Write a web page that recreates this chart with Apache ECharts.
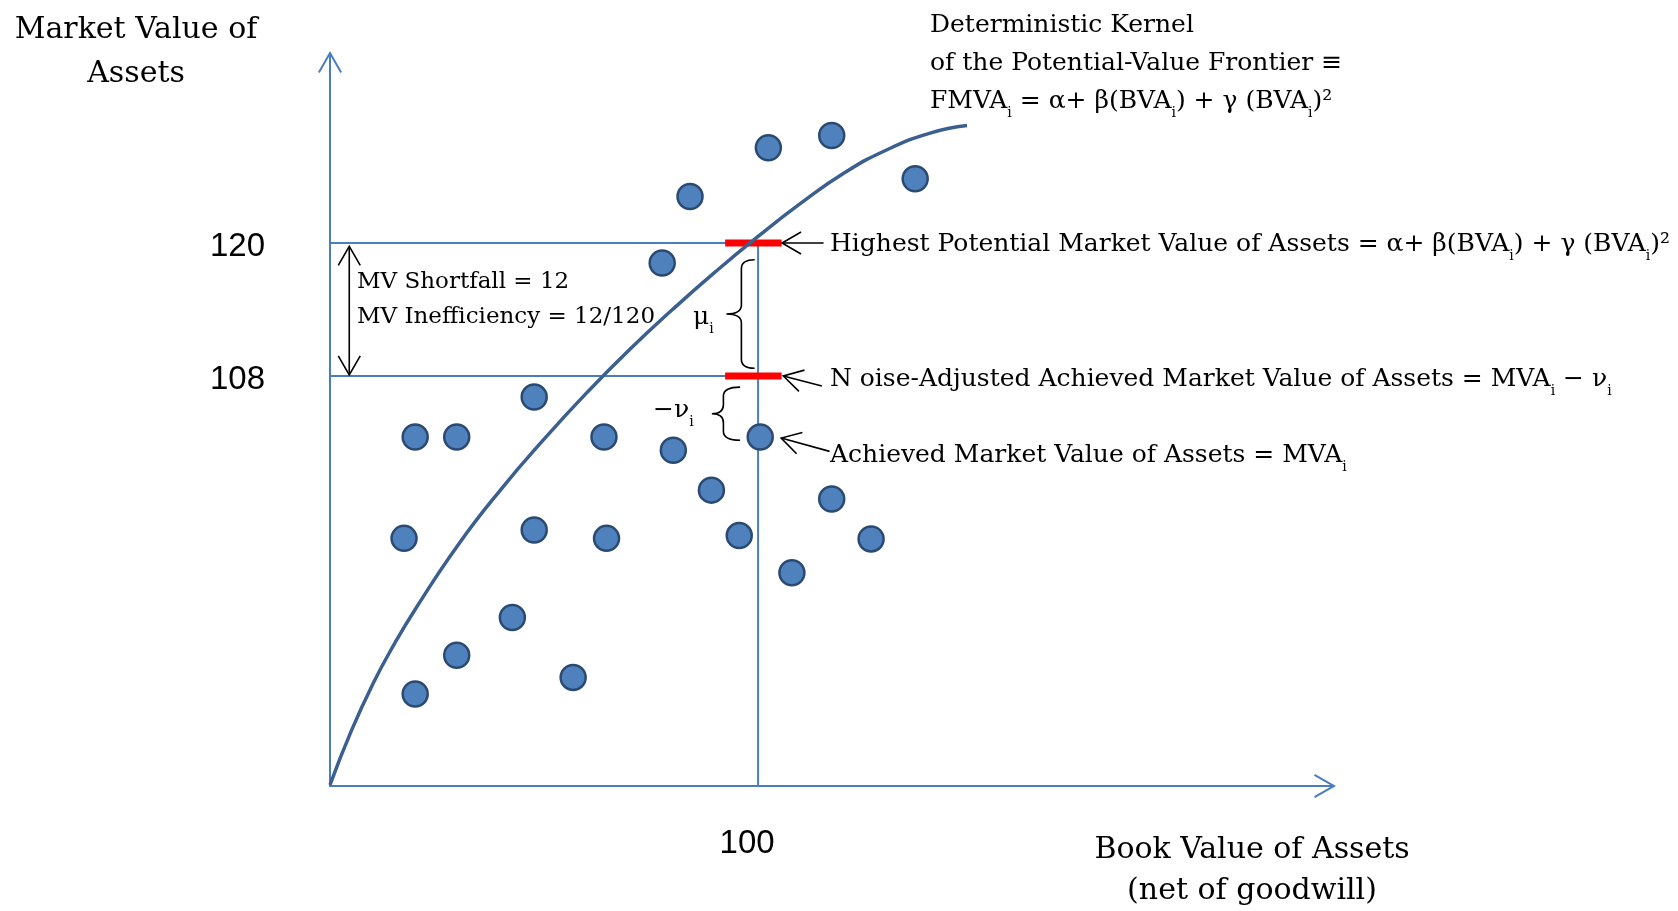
<!DOCTYPE html>
<html lang="en">
<head>
    <meta charset="UTF-8">
    <title>Potential-Value Frontier</title>
    <style>
        html, body { margin: 0; padding: 0; background: #fff; }
        #main { width: 1678px; height: 911px; }
    </style>
</head>
<body>
    <div id="main"></div>
    <script src="https://cdn.jsdelivr.net/npm/echarts@6/dist/echarts.min.js"></script>
    <script>
        // firms: book value (net of goodwill) vs market value of assets
        var bookValue   = [102.4, 117.2, 136.7, 84.1, 77.6, 47.7, 19.9, 29.6, 64.0, 80.2, 100.5, 89.1,
                           117.2, 17.3, 47.7, 64.6, 95.6, 126.4, 107.9, 42.6, 29.6, 56.8, 19.9];
        var marketValue = [128.6, 129.7, 125.8, 124.2, 118.2, 106.1, 102.5, 102.5, 102.5, 101.3, 102.5, 97.7,
                           96.9, 93.35, 94.1, 93.35, 93.6, 93.3, 90.25, 86.2, 82.8, 80.8, 79.3];

        // frontier (deterministic kernel)
        var frontierBV = [0, 5, 10, 15, 20, 30, 40, 50, 60, 70, 80, 90, 100, 110, 120, 130, 140, 148.8];
        var frontierMV = [71.1, 76.0, 80.2, 83.8, 87.0, 92.8, 97.8, 102.3, 106.5, 110.4, 114.0, 117.4,
                          120.6, 123.6, 126.3, 128.4, 129.9, 130.6];

        // reference firm
        var refBV = 100;
        var highestMV = 120;
        var noiseAdjMV = 108;
        var yTicks = [108, 120];
        var xTicks = [100];

        var BLUE = '#4a7ebb';
        var SERIF = 'DejaVu Serif';
        var axisArrow = 'path://M12,0 L24,21 L22.26,22 L13,5.8 L13,24 L11,24 L11,5.8 L1.74,22 L0,21 Z';

        function pairs(xs, ys) {
            return xs.map(function (x, i) { return [x, ys[i]]; });
        }

        // arrows: [x1, y1, x2, y2, double-headed]
        var arrows = [
            [115.3, 120, 105.6, 120, 0],
            [114.9, 107.1, 105.9, 108, 0],
            [116.7, 101.2, 105.4, 102.4, 0],
            [4.5, 119.7, 4.5, 108.1, 1]
        ];
        // braces: [xEnds, xSpine, xTip, yTop, yBottom]
        var braces = [
            [99.2, 96.1, 92.6, 118.5, 108.7],
            [95.8, 91.9, 89.2, 107.0, 102.2]
        ];

        function head(tip, from) {
            var dx = tip[0] - from[0], dy = tip[1] - from[1];
            var len = Math.sqrt(dx * dx + dy * dy) || 1;
            dx /= len; dy /= len;
            var L = 19, W = 11;
            return {
                type: 'polyline',
                shape: { points: [
                    [tip[0] - dx * L - dy * W, tip[1] - dy * L + dx * W],
                    tip,
                    [tip[0] - dx * L + dy * W, tip[1] - dy * L - dx * W]
                ] },
                style: { stroke: '#000', lineWidth: 1.6, fill: null }
            };
        }

        var sub = { fontFamily: SERIF, fontSize: 14, lineHeight: 24, verticalAlign: 'bottom', fill: '#000' };
        var tickRich = { t: { fontFamily: 'Liberation Sans', fontSize: 33, color: '#000', padding: [8, 0, 0, 0] } };

        var chart = echarts.init(document.getElementById('main'));
        chart.setOption({
            animation: false,
            backgroundColor: '#fff',
            grid: { left: 330, right: 354, top: 63, bottom: 125 },
            xAxis: {
                type: 'value', min: 0, max: 232.2,
                axisLine: { onZero: false, lineStyle: { color: BLUE, width: 2 },
                            symbol: ['none', axisArrow], symbolSize: [24, 24] },
                axisTick: { show: false },
                splitLine: { show: false },
                axisLabel: { customValues: xTicks, margin: 41, padding: [0, 22, 0, 0],
                             fontFamily: 'Liberation Sans', fontSize: 33, color: '#000' }
            },
            yAxis: {
                type: 'value', min: 71, max: 136.25,
                axisLine: { show: true, onZero: false, lineStyle: { color: BLUE, width: 2 },
                            symbol: ['none', axisArrow], symbolSize: [24, 24] },
                axisTick: { show: false },
                splitLine: { show: false },
                axisLabel: { customValues: yTicks, margin: 65, formatter: '{t|{value}}', rich: tickRich }
            },
            series: [
                { type: 'line', silent: true, symbol: 'none', z: 1,
                  lineStyle: { color: BLUE, width: 2 }, data: [[0, highestMV], [refBV, highestMV]] },
                { type: 'line', silent: true, symbol: 'none', z: 1,
                  lineStyle: { color: BLUE, width: 2 }, data: [[0, noiseAdjMV], [refBV, noiseAdjMV]] },
                { type: 'line', silent: true, symbol: 'none', z: 1,
                  lineStyle: { color: BLUE, width: 2 }, data: [[refBV, 71], [refBV, highestMV]] },
                { type: 'line', silent: true, symbol: 'none', z: 2,
                  lineStyle: { color: '#ff0000', width: 7 }, data: [[92.3, highestMV], [105.5, highestMV]] },
                { type: 'line', silent: true, symbol: 'none', z: 2,
                  lineStyle: { color: '#ff0000', width: 7 }, data: [[92.3, noiseAdjMV], [105.5, noiseAdjMV]] },
                { type: 'line', name: 'Frontier', symbol: 'none', smooth: 0.5, z: 3,
                  lineStyle: { color: '#3b5f8e', width: 3.5 }, data: pairs(frontierBV, frontierMV) },
                { type: 'scatter', name: 'Firms', symbol: 'circle', symbolSize: 25, z: 4,
                  itemStyle: { color: '#4f81bd', borderColor: '#2b4a72', borderWidth: 2.5, opacity: 1 },
                  data: pairs(bookValue, marketValue) },
                { type: 'custom', silent: true, z: 5, clip: false,
                  encode: { x: [0, 2], y: [1, 3] },
                  renderItem: function (params, api) {
                      var a = api.coord([api.value(0), api.value(1)]);
                      var b = api.coord([api.value(2), api.value(3)]);
                      var kids = [{ type: 'line', shape: { x1: a[0], y1: a[1], x2: b[0], y2: b[1] },
                                    style: { stroke: '#000', lineWidth: 1.6 } }, head(b, a)];
                      if (api.value(4)) kids.push(head(a, b));
                      return { type: 'group', children: kids };
                  },
                  data: arrows },
                { type: 'custom', silent: true, z: 5, clip: false,
                  encode: { x: [0, 1, 2], y: [3, 4] },
                  renderItem: function (params, api) {
                      var top = api.coord([api.value(0), api.value(3)]);
                      var bot = api.coord([api.value(0), api.value(4)]);
                      var R = top[0];
                      var S = api.coord([api.value(1), api.value(3)])[0];
                      var T = api.coord([api.value(2), api.value(3)])[0];
                      var ty = top[1], by = bot[1], my = (ty + by) / 2;
                      var r = Math.min(9, (by - ty) / 4);
                      var d = 'M' + R + ',' + ty + ' Q' + S + ',' + ty + ' ' + S + ',' + (ty + r) +
                              ' L' + S + ',' + (my - r) + ' Q' + S + ',' + my + ' ' + T + ',' + my +
                              ' Q' + S + ',' + my + ' ' + S + ',' + (my + r) +
                              ' L' + S + ',' + (by - r) + ' Q' + S + ',' + by + ' ' + R + ',' + by;
                      return { type: 'path', shape: { pathData: d },
                               style: { stroke: '#000', lineWidth: 1.6, fill: null } };
                  },
                  data: braces }
            ],
            graphic: [
                { type: 'text', x: 136, y: 52, style: {
                    text: 'Market Value of\nAssets', fontFamily: SERIF, fontSize: 30, lineHeight: 44,
                    fill: '#000', align: 'center', verticalAlign: 'middle' } },
                { type: 'text', x: 1252, y: 871, style: {
                    text: 'Book Value of Assets\n(net of goodwill)', fontFamily: SERIF, fontSize: 30, lineHeight: 41,
                    fill: '#000', align: 'center', verticalAlign: 'middle' } },
                { type: 'text', x: 930, y: 63.5, style: {
                    text: 'Deterministic Kernel\nof the Potential-Value Frontier ≡\nFMVA{s|i} = α+ β(BVA{s|i}) + γ (BVA{s|i})²',
                    rich: { s: sub }, fontFamily: SERIF, fontSize: 25, lineHeight: 38,
                    fill: '#000', align: 'left', verticalAlign: 'middle' } },
                { type: 'text', x: 830, y: 244, style: {
                    text: 'Highest Potential Market Value of Assets = α+ β(BVA{s|i}) + γ (BVA{s|i})²',
                    rich: { s: sub }, fontFamily: SERIF, fontSize: 25, lineHeight: 38,
                    fill: '#000', align: 'left', verticalAlign: 'middle' } },
                { type: 'text', x: 830, y: 379, style: {
                    text: 'N oise-Adjusted Achieved Market Value of Assets = MVA{s|i} − ν{s|i}',
                    rich: { s: sub }, fontFamily: SERIF, fontSize: 25, lineHeight: 38,
                    fill: '#000', align: 'left', verticalAlign: 'middle' } },
                { type: 'text', x: 830, y: 455, style: {
                    text: 'Achieved Market Value of Assets = MVA{s|i}',
                    rich: { s: sub }, fontFamily: SERIF, fontSize: 25, lineHeight: 38,
                    fill: '#000', align: 'left', verticalAlign: 'middle' } },
                { type: 'text', x: 357, y: 300, style: {
                    text: 'MV Shortfall = 12\nMV Inefficiency = 12/120', fontFamily: SERIF, fontSize: 23, lineHeight: 35,
                    fill: '#000', align: 'left', verticalAlign: 'middle' } },
                { type: 'text', x: 693, y: 317, style: {
                    text: 'μ{s|i}', rich: { s: sub }, fontFamily: SERIF, fontSize: 25, lineHeight: 38,
                    fill: '#000', align: 'left', verticalAlign: 'middle' } },
                { type: 'text', x: 653, y: 410, style: {
                    text: '−ν{s|i}', rich: { s: sub }, fontFamily: SERIF, fontSize: 25, lineHeight: 38,
                    fill: '#000', align: 'left', verticalAlign: 'middle' } }
            ]
        });
    </script>
</body>
</html>
